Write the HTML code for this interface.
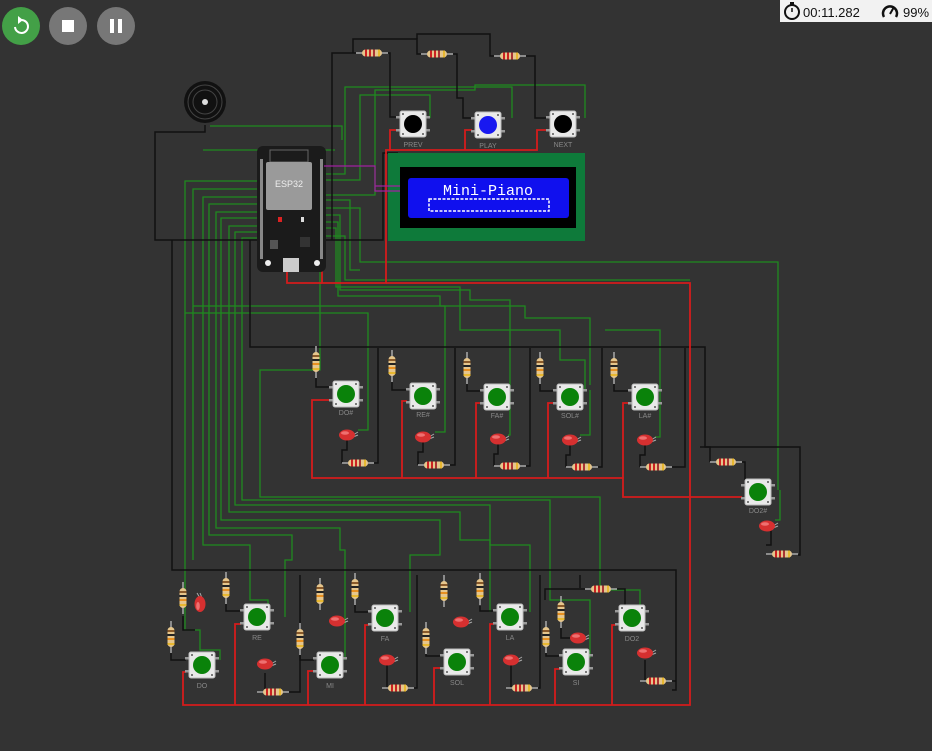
<!DOCTYPE html>
<html><head><meta charset="utf-8"><style>
html,body{margin:0;padding:0;background:#333;width:932px;height:751px;overflow:hidden}
svg{display:block}
text{font-family:"Liberation Sans",sans-serif}
text.mono{font-family:"Liberation Mono",monospace}
</style></head><body>
<svg width="932" height="751" viewBox="0 0 932 751" xmlns="http://www.w3.org/2000/svg">
<defs>
<g id="bb">
<rect x="-17" y="-8" width="6" height="2.5" fill="#999"/><rect x="-17" y="5" width="6" height="2.5" fill="#999"/>
<rect x="11" y="-8" width="6" height="2.5" fill="#999"/><rect x="11" y="5" width="6" height="2.5" fill="#999"/>
<rect x="-13" y="-13" width="26" height="26" rx="2" fill="#e9e9e9" stroke="#bbb" stroke-width="1"/>
<circle cx="-10" cy="-10" r="1" fill="#555"/><circle cx="10" cy="-10" r="1" fill="#555"/><circle cx="-10" cy="10" r="1" fill="#555"/><circle cx="10" cy="10" r="1" fill="#555"/>
</g>
<g id="rh"><line x1="-16" y1="0" x2="16" y2="0" stroke="#aaa" stroke-width="1.5"/><rect x="-10" y="-3.5" width="20" height="7" rx="3.5" fill="#e6c68c"/><rect x="-7" y="-3.5" width="2" height="7" fill="#c22"/><rect x="-3" y="-3.5" width="2" height="7" fill="#c22"/><rect x="1" y="-3.5" width="2" height="7" fill="#a33"/><rect x="6" y="-3.5" width="2" height="7" fill="#e8b830"/></g>
<g id="rv"><line x1="0" y1="-16" x2="0" y2="16" stroke="#aaa" stroke-width="1.5"/><rect x="-3.5" y="-10" width="7" height="20" rx="3.5" fill="#e6c68c"/><rect x="-3.5" y="-7" width="7" height="2" fill="#8a5a2a"/><rect x="-3.5" y="-3" width="7" height="2" fill="#222"/><rect x="-3.5" y="1" width="7" height="2" fill="#e89020"/><rect x="-3.5" y="6" width="7" height="2" fill="#e8b830"/></g>
<g id="led"><line x1="6" y1="0" x2="11" y2="-3" stroke="#aaa"/><line x1="6" y1="2" x2="11" y2="0" stroke="#aaa"/><ellipse cx="0" cy="0" rx="8" ry="5.5" fill="#d63030"/><ellipse cx="-2" cy="-2" rx="4" ry="1.8" fill="#ef7070"/></g>
</defs>

<g fill="none" stroke="#1f8a1f" stroke-width="1.3">
<path d="M259,181 H185 V313 H368 V387"/>
<path d="M259,189 H193 V306 H445 V388"/>
<path d="M259,197 H203 V545 H250 V600 H268 V612"/>
<path d="M259,204 H209 V535 H292 V560 H285 V617"/>
<path d="M259,212 H216 V528 H340 V550 H345 V660"/>
<path d="M259,218 H221 V520 H440 V555 H410 V612"/>
<path d="M259,226 H229 V512 H460 V540 H490 V612"/>
<path d="M259,232 H235 V505 H490 V545 H530 V612"/>
<path d="M259,238 H242 V500 H550 V600 H590 V658"/>
<path d="M320,240 V370 H260 V497 H600 V590 H640 V615"/>
<path d="M185,313 V630 H200 V650 H220 V660"/>
<path d="M193,306 V560"/>
<path d="M368,387 V430 H358"/>
<path d="M445,388 V432 H435"/>
<path d="M324,180 H360 V95 H430 V118"/>
<path d="M324,174 H345 V87 H512 V118"/>
<path d="M324,195 H375 V90 H475 V85 H585 V118"/>
<path d="M324,200 H350 V270 H360"/>
<path d="M324,208 H360 V262 H778 V490"/>
<path d="M324,215 H340 V290 H470 V300 H510 V385"/>
<path d="M324,222 H338 V296 H440 V306 H525 V318 H590 V385"/>
<path d="M324,228 H336 V287 H460 V330 H560 V360 H585 V390"/>
<path d="M324,236 H345 V280 H690"/>
<path d="M510,385 V435 H508"/>
<path d="M590,390 V435 H580"/>
<path d="M660,385 V437 H655"/>
<path d="M605,330 H660 V385"/>
<path d="M780,490 V520 H775"/>
<path d="M203,150 H335 V150"/>
<path d="M210,126 H342 V140"/>
</g>

<g fill="none" stroke="#111" stroke-width="1.5">
<path d="M205,125 V132 H155 V240 H383 V153 H398"/>
<path d="M332,240 V53 H356"/>
<path d="M388,53 H390 V117 H398"/>
<path d="M353,53 V39 H417 V54 H421"/>
<path d="M453,54 H457 V98 H463 V118 H471"/>
<path d="M417,39 V34 H490 V56 H494"/>
<path d="M526,56 H535 V118 H548"/>
<path d="M250,240 V347 H705 V447 H800 V555 H798"/>
<path d="M172,240 V570 H676 V690 H672"/>
<path d="M374,463 H378 V348"/>
<path d="M450,465 H455 V348"/>
<path d="M526,466 H530 V348"/>
<path d="M598,467 H602 V348"/>
<path d="M672,467 H685 V348"/>
<path d="M700,447 H710 V462"/>
<path d="M742,462 H745 V485 H742"/>
<path d="M771,530 V545 H766"/>
<path d="M347,440 V450 H342 V463"/>
<path d="M423,442 V452 H418 V465"/>
<path d="M498,444 V454 H494 V466"/>
<path d="M570,445 V455 H566 V467"/>
<path d="M645,445 V455 H640 V467"/>
<path d="M316,378 V387 H330"/>
<path d="M392,382 V390 H407"/>
<path d="M467,384 V391 H481"/>
<path d="M540,384 V391 H554"/>
<path d="M614,384 V391 H629"/>
<path d="M171,653 V660 H186"/>
<path d="M226,604 V611 H241"/>
<path d="M300,655 V660 H314"/>
<path d="M355,605 V612 H369"/>
<path d="M426,654 V656 H441"/>
<path d="M480,606 V611 H494"/>
<path d="M546,653 V656 H560"/>
<path d="M585,589 H545 V600"/>
<path d="M617,589 H625 V612 H616"/>
<path d="M265,673 V692 H257"/>
<path d="M289,692 H300 V575"/>
<path d="M387,665 V688 H382"/>
<path d="M414,688 H417 V575"/>
<path d="M511,665 V688 H506"/>
<path d="M538,688 H540 V575"/>
<path d="M645,660 V681 H640"/>
<path d="M672,681 H676"/>
<path d="M580,575 V588"/>
<path d="M561,628 V638 H570"/>
<path d="M183,616 V630 H195"/>
</g>

<g fill="none" stroke="#d41c1c" stroke-width="1.8">
<path d="M398,130 H390 V150 H537 V130 H548"/>
<path d="M472,130 H465 V150"/>
<path d="M390,150 H386 V283 H322 V270"/>
<path d="M287,270 V283 H322"/>
<path d="M386,283 H690 V705 H183 V672 H186"/>
<path d="M330,400 H312 V478 H623 V497 H742"/>
<path d="M407,401 H402 V478"/>
<path d="M481,403 H476 V478"/>
<path d="M554,403 H548 V478"/>
<path d="M629,403 H623 V478"/>
<path d="M241,624 H235 V705"/>
<path d="M314,671 H308 V705"/>
<path d="M369,625 H365 V705"/>
<path d="M441,668 H434 V705"/>
<path d="M494,624 H490 V705"/>
<path d="M560,669 H555 V705"/>
<path d="M616,625 H612 V705"/>
</g>

<circle cx="205" cy="102" r="21" fill="#111"/>
<circle cx="205" cy="102" r="17" fill="none" stroke="#444" stroke-width="1"/>
<circle cx="205" cy="102" r="12" fill="none" stroke="#444" stroke-width="1"/>
<circle cx="205" cy="102" r="3" fill="#ddd"/>

<rect x="257" y="146" width="69" height="126" rx="6" fill="#1b1b1b"/>
<rect x="270" y="150" width="38" height="12" fill="none" stroke="#666" stroke-width="1"/>
<rect x="266" y="162" width="46" height="48" rx="2" fill="#9a9a9a"/>
<text x="289" y="187" font-size="9" fill="#eee" text-anchor="middle">ESP32</text>
<g fill="#888"><rect x="260" y="159" width="3" height="100"/><rect x="320" y="159" width="3" height="100"/></g>
<rect x="278" y="217" width="4" height="5" fill="#d22"/><rect x="301" y="217" width="3" height="5" fill="#ddd"/>
<rect x="300" y="237" width="10" height="10" fill="#333"/>
<rect x="270" y="240" width="8" height="9" fill="#555"/>
<rect x="283" y="258" width="16" height="14" fill="#ccc"/>
<circle cx="268" cy="263" r="3" fill="#eee"/><circle cx="317" cy="263" r="3" fill="#eee"/>

<rect x="388" y="153" width="197" height="88" fill="#0e7a3a"/>
<rect x="400" y="167" width="176" height="61" fill="#000"/>
<rect x="408" y="178" width="161" height="40" rx="3" fill="#1010ee"/>
<text class="mono" x="488" y="195" font-size="15" fill="#fff" text-anchor="middle">Mini-Piano</text>
<rect x="429" y="199" width="120" height="12" fill="none" stroke="#fff" stroke-width="1.5" stroke-dasharray="3,1.5"/>
<path d="M324,166 H375 V191 H400 M375,186 H400" fill="none" stroke="#a020a0" stroke-width="1.2"/>

<use href="#bb" x="413" y="124"/><circle cx="413" cy="124" r="9" fill="#000"/><text x="413" y="147" font-size="7" fill="#888" text-anchor="middle">PREV</text>
<use href="#bb" x="488" y="125"/><circle cx="488" cy="125" r="9" fill="#1818f0"/><text x="488" y="148" font-size="7" fill="#888" text-anchor="middle">PLAY</text>
<use href="#bb" x="563" y="124"/><circle cx="563" cy="124" r="9" fill="#000"/><text x="563" y="147" font-size="7" fill="#888" text-anchor="middle">NEXT</text>
<use href="#rh" x="372" y="53"/><use href="#rh" x="437" y="54"/><use href="#rh" x="510" y="56"/>

<g fill="#0a820a">
<use href="#bb" x="346" y="394"/><circle cx="346" cy="394" r="9"/>
<use href="#bb" x="423" y="396"/><circle cx="423" cy="396" r="9"/>
<use href="#bb" x="497" y="397"/><circle cx="497" cy="397" r="9"/>
<use href="#bb" x="570" y="397"/><circle cx="570" cy="397" r="9"/>
<use href="#bb" x="645" y="397"/><circle cx="645" cy="397" r="9"/>
<use href="#bb" x="758" y="492"/><circle cx="758" cy="492" r="9"/>
</g>
<g font-size="7" fill="#888" text-anchor="middle">
<text x="346" y="415">DO#</text><text x="423" y="417">RE#</text><text x="497" y="418">FA#</text><text x="570" y="418">SOL#</text><text x="645" y="418">LA#</text><text x="758" y="513">DO2#</text>
</g>
<use href="#rv" x="316" y="362"/><use href="#rv" x="392" y="366"/><use href="#rv" x="467" y="368"/><use href="#rv" x="540" y="368"/><use href="#rv" x="614" y="368"/>
<use href="#led" x="347" y="435"/><use href="#led" x="423" y="437"/><use href="#led" x="498" y="439"/><use href="#led" x="570" y="440"/><use href="#led" x="645" y="440"/><use href="#led" x="767" y="526"/>
<use href="#rh" x="358" y="463"/><use href="#rh" x="434" y="465"/><use href="#rh" x="510" y="466"/><use href="#rh" x="582" y="467"/><use href="#rh" x="656" y="467"/><use href="#rh" x="726" y="462"/><use href="#rh" x="782" y="554"/>

<g fill="#0a820a">
<use href="#bb" x="202" y="665"/><circle cx="202" cy="665" r="9"/>
<use href="#bb" x="257" y="617"/><circle cx="257" cy="617" r="9"/>
<use href="#bb" x="330" y="665"/><circle cx="330" cy="665" r="9"/>
<use href="#bb" x="385" y="618"/><circle cx="385" cy="618" r="9"/>
<use href="#bb" x="457" y="662"/><circle cx="457" cy="662" r="9"/>
<use href="#bb" x="510" y="617"/><circle cx="510" cy="617" r="9"/>
<use href="#bb" x="576" y="662"/><circle cx="576" cy="662" r="9"/>
<use href="#bb" x="632" y="618"/><circle cx="632" cy="618" r="9"/>
</g>
<g font-size="7" fill="#888" text-anchor="middle">
<text x="202" y="688">DO</text><text x="257" y="640">RE</text><text x="330" y="688">MI</text><text x="385" y="641">FA</text><text x="457" y="685">SOL</text><text x="510" y="640">LA</text><text x="576" y="685">SI</text><text x="632" y="641">DO2</text>
</g>
<use href="#rv" x="171" y="637"/><use href="#rv" x="183" y="598"/><use href="#rv" x="226" y="588"/><use href="#rv" x="300" y="639"/><use href="#rv" x="320" y="594"/><use href="#rv" x="355" y="589"/><use href="#rv" x="426" y="638"/><use href="#rv" x="444" y="591"/><use href="#rv" x="480" y="589"/><use href="#rv" x="546" y="637"/><use href="#rv" x="561" y="612"/>
<g transform="translate(200,604) rotate(-90)"><use href="#led"/></g>
<use href="#led" x="265" y="664"/><use href="#led" x="337" y="621"/><use href="#led" x="387" y="660"/><use href="#led" x="461" y="622"/><use href="#led" x="511" y="660"/><use href="#led" x="578" y="638"/><use href="#led" x="645" y="653"/>
<use href="#rh" x="273" y="692"/><use href="#rh" x="398" y="688"/><use href="#rh" x="522" y="688"/><use href="#rh" x="601" y="589"/><use href="#rh" x="656" y="681"/>

<circle cx="21" cy="26" r="19" fill="#43a047"/>
<path d="M15,27 A6.5,6.5 0 1 0 21,20" fill="none" stroke="#fff" stroke-width="2"/>
<path d="M18,16 L23,20 L18,24 Z" fill="#fff"/>
<circle cx="68" cy="26" r="19" fill="#777"/><rect x="62" y="20" width="12" height="12" fill="#fff"/>
<circle cx="116" cy="26" r="19" fill="#777"/><rect x="110" y="19" width="4" height="14" fill="#fff"/><rect x="118" y="19" width="4" height="14" fill="#fff"/>

<rect x="780" y="0" width="152" height="22" fill="#f2f2f2"/>
<circle cx="792" cy="12" r="7" fill="none" stroke="#111" stroke-width="2"/><rect x="790" y="2" width="4" height="3" fill="#111"/><line x1="792" y1="12" x2="792" y2="8" stroke="#111" stroke-width="1.5"/>
<text x="803" y="17" font-size="13" fill="#111">00:11.282</text>
<path d="M884,17 A7,7 0 1 1 896,17" fill="none" stroke="#111" stroke-width="2.5"/><line x1="890" y1="14" x2="894" y2="7" stroke="#111" stroke-width="2"/>
<text x="903" y="17" font-size="13" fill="#111">99%</text>
</svg>
</body></html>
